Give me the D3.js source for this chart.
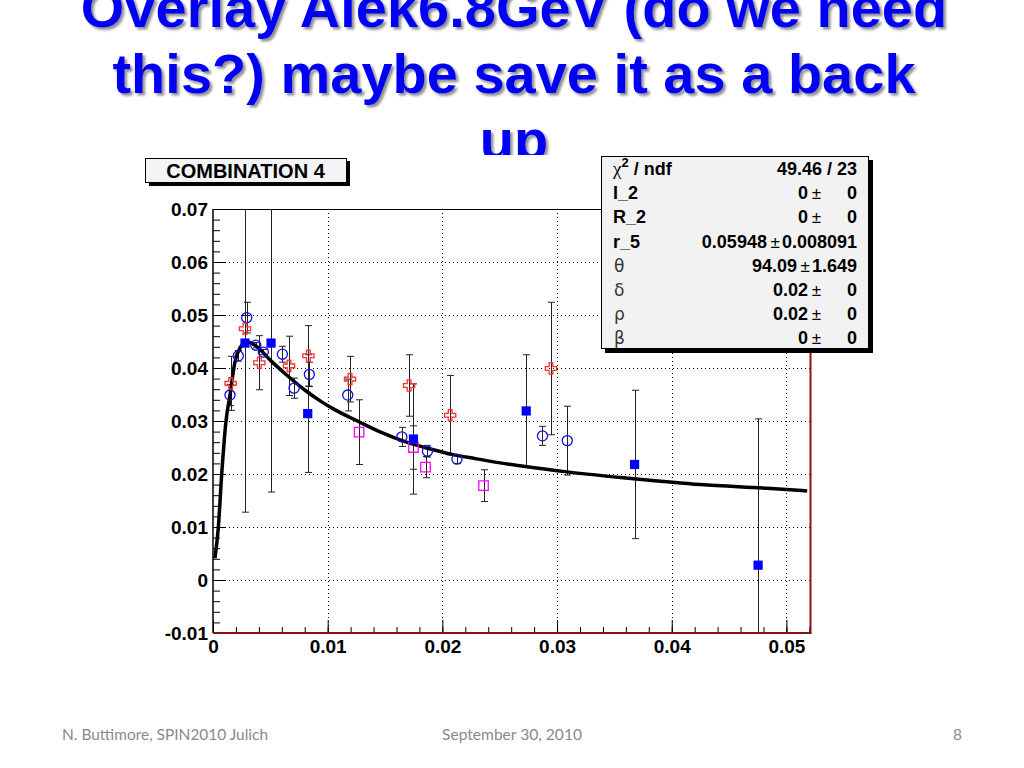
<!DOCTYPE html>
<html><head><meta charset="utf-8">
<script src="https://cdn.jsdelivr.net/npm/d3@7"></script>
<style>html,body{margin:0;padding:0;background:#fff;} svg{display:block}</style>
</head><body>
<svg id="c" width="1024" height="768"></svg>
<script>
// ---------------- data ----------------
const titleLines = ["Overlay Alek6.8GeV (do we need", "this?) maybe save it as a back", "up"];
const chartTitle = "COMBINATION 4";
const footerLeft = "N. Buttimore, SPIN2010 Julich";
const footerCenter = "September 30, 2010";
const footerRight = "8";

const xTicks = [0, 0.01, 0.02, 0.03, 0.04, 0.05];
const xTickLabels = ["0", "0.01", "0.02", "0.03", "0.04", "0.05"];
const yTicks = [-0.01, 0, 0.01, 0.02, 0.03, 0.04, 0.05, 0.06, 0.07];
const yTickLabels = ["-0.01", "0", "0.01", "0.02", "0.03", "0.04", "0.05", "0.06", "0.07"];

// blue filled squares
const sqX   = [0.00279, 0.00506, 0.00826, 0.01748, 0.02731, 0.03676, 0.04753];
const sqY   = [0.0447, 0.0447, 0.0314, 0.0266, 0.0319, 0.0218, 0.0028];
const sqErr = [0.0319, 0.0281, 0.0111, 0.0104, 0.0106, 0.0140, 0.0276];

// blue open circles
const circX   = [0.00148, 0.00221, 0.00294, 0.00373, 0.00439, 0.00605, 0.00707, 0.00840, 0.01175, 0.01647, 0.01870, 0.02127, 0.02873, 0.03089];
const circY   = [0.0349, 0.0423, 0.0495, 0.0443, 0.0430, 0.0426, 0.0362, 0.0388, 0.0349, 0.0270, 0.0243, 0.0228, 0.0272, 0.0263];
const circErr = [0.0020, 0.0010, 0.0029, 0.0005, 0.0005, 0.0015, 0.0019, 0.0023, 0.0030, 0.0018, 0.0011, 0.0008, 0.0018, 0.0065];

// red open crosses
const crossX   = [0.00154, 0.00279, 0.00404, 0.00663, 0.00832, 0.01195, 0.01710, 0.02068, 0.02947];
const crossY   = [0.0371, 0.0474, 0.0410, 0.0404, 0.0423, 0.0379, 0.0367, 0.0311, 0.0399];
const crossErr = [0.0051, 0.0025, 0.0051, 0.0056, 0.0057, 0.0043, 0.0058, 0.0075, 0.0125];

// magenta open squares
const magX   = [0.01274, 0.01748, 0.01853, 0.02359];
const magY   = [0.0279, 0.0250, 0.0213, 0.0178];
const magErr = [0.0061, 0.0041, 0.0020, 0.0030];

// fit curve
const fitX = [0.00017, 0.00046, 0.00076, 0.00113, 0.00148, 0.00192, 0.00236, 0.00273, 0.00305, 0.00366, 0.00512, 0.00657, 0.00803, 0.00934, 0.01065, 0.01268, 0.01472, 0.01675, 0.01879, 0.02083, 0.02286, 0.02504, 0.02723, 0.03086, 0.03668, 0.04250, 0.04832, 0.05181];
const fitY = [0.0041, 0.0098, 0.0200, 0.0299, 0.0349, 0.0412, 0.0438, 0.0447, 0.0449, 0.0443, 0.0412, 0.0384, 0.0358, 0.0338, 0.0321, 0.0299, 0.0278, 0.0261, 0.0248, 0.0237, 0.0229, 0.0221, 0.0214, 0.0204, 0.0191, 0.0180, 0.0173, 0.0168];

// stats box
const statLabels = ["χ", "I_2", "R_2", "r_5", "θ", "δ", "ρ", "β"];
const statValues = ["49.46 / 23", "0", "0", "0.05948", "94.09", "0.02", "0.02", "0"];
const statErrors = [null, "0", "0", "0.008091", "1.649", "0", "0", "0"];

// ---------------- drawing ----------------
const svg = d3.select("#c");
const F = "'Liberation Sans', Arial, Helvetica, sans-serif";

const defs = svg.append("defs");
const flt = defs.append("filter").attr("id", "shadow").attr("x", "-5%").attr("y", "-20%").attr("width", "110%").attr("height", "140%");
flt.append("feDropShadow").attr("dx", 2.5).attr("dy", 2.5).attr("stdDeviation", 0.8)
  .attr("flood-color", "#6a6a6a").attr("flood-opacity", 0.75);

// title with shadow
const titleBase = [27, 93, 159];
titleLines.forEach((t, i) => {
  svg.append("text").attr("x", 514).attr("y", titleBase[i]).attr("text-anchor", "middle")
    .attr("font-family", F).attr("font-weight", "bold").attr("font-size", 56)
    .attr("fill", "#0505f5").attr("filter", "url(#shadow)").text(t);
});

// chart image background
svg.append("rect").attr("x", 138).attr("y", 155).attr("width", 745).attr("height", 530).attr("fill", "#fff");

const X0 = 213, X1 = 810.5, Y0 = 633, Y1 = 209;
const x = d3.scaleLinear().domain([0, 0.0521]).range([X0, X1]);
const y = d3.scaleLinear().domain([-0.01, 0.07]).range([Y0, Y1]);

defs.append("clipPath").attr("id", "pc").append("rect")
  .attr("x", X0).attr("y", Y1).attr("width", X1 - X0).attr("height", Y0 - Y1);

// grid
const grid = svg.append("g").attr("stroke", "#000").attr("stroke-width", 1).attr("stroke-dasharray", "1,3");
xTicks.filter(v => v > 0).forEach(v => {
  grid.append("line").attr("x1", Math.round(x(v)) + 0.5).attr("x2", Math.round(x(v)) + 0.5).attr("y1", Y1).attr("y2", Y0);
});
yTicks.filter(v => v > -0.01 && v < 0.07).forEach(v => {
  grid.append("line").attr("y1", Math.round(y(v)) + 0.5).attr("y2", Math.round(y(v)) + 0.5).attr("x1", X0).attr("x2", X1);
});

// axes
const minorX = d3.range(0, 0.0521, 0.002);
const minorY = d3.range(-0.01, 0.0701, 0.002);

const xAxisG = svg.append("g").attr("transform", `translate(0,${Y0})`);
xAxisG.call(d3.axisBottom(x).tickValues(minorX).tickSize(-6).tickFormat(""));
const xMaj = svg.append("g").attr("transform", `translate(0,${Y0})`)
  .call(d3.axisBottom(x).tickValues(xTicks).tickSize(-13).tickPadding(7).tickFormat((d, i) => xTickLabels[i]));

const yAxisG = svg.append("g").attr("transform", `translate(${X0},0)`);
yAxisG.call(d3.axisLeft(y).tickValues(minorY).tickSize(-7).tickFormat(""));
const yMaj = svg.append("g").attr("transform", `translate(${X0},0)`)
  .call(d3.axisLeft(y).tickValues(yTicks).tickSize(-13).tickPadding(5).tickFormat((d, i) => yTickLabels[i]));

[xAxisG, xMaj, yAxisG, yMaj].forEach(g => {
  g.select(".domain").remove();
  g.selectAll("line").attr("stroke", "#000").attr("stroke-width", 1);
  g.selectAll("text").attr("font-family", F).attr("font-weight", "bold").attr("font-size", 19).attr("fill", "#000");
});

// frame
svg.append("line").attr("x1", X0).attr("x2", X1).attr("y1", Y1 + 0.5).attr("y2", Y1 + 0.5).attr("stroke", "#000").attr("stroke-width", 1);
svg.append("line").attr("x1", X0).attr("x2", X0).attr("y1", Y1).attr("y2", Y0).attr("stroke", "#000").attr("stroke-width", 1.5);
svg.append("line").attr("x1", X0).attr("x2", X1 + 1).attr("y1", Y0).attr("y2", Y0).attr("stroke", "#8b1010").attr("stroke-width", 2);
svg.append("line").attr("x1", X1).attr("x2", X1).attr("y1", Y1).attr("y2", Y0).attr("stroke", "#8b1010").attr("stroke-width", 2);

// data layer
const plot = svg.append("g").attr("clip-path", "url(#pc)");

function errorBars(xs, ys, es) {
  const g = plot.append("g").attr("stroke", "#222").attr("stroke-width", 1).attr("fill", "none");
  xs.forEach((xv, i) => {
    const px = Math.round(x(xv)) + 0.5, top = y(ys[i] + es[i]), bot = y(ys[i] - es[i]);
    g.append("line").attr("x1", px).attr("x2", px).attr("y1", top).attr("y2", bot);
    g.append("line").attr("x1", px - 3.5).attr("x2", px + 3.5).attr("y1", top).attr("y2", top);
    g.append("line").attr("x1", px - 3.5).attr("x2", px + 3.5).attr("y1", bot).attr("y2", bot);
  });
}
errorBars(sqX, sqY, sqErr);
errorBars(circX, circY, circErr);
errorBars(crossX, crossY, crossErr);
errorBars(magX, magY, magErr);

// fit curve
plot.append("path")
  .datum(fitX.map((v, i) => [v, fitY[i]]))
  .attr("d", d3.line().x(d => x(d[0])).y(d => y(d[1])).curve(d3.curveMonotoneX))
  .attr("fill", "none").attr("stroke", "#000").attr("stroke-width", 3.5).attr("stroke-linejoin", "round");

function markers(xs, ys, type, size, fill, stroke, sw) {
  const sym = d3.symbol().type(type).size(size);
  plot.append("g").selectAll("path").data(xs).join("path")
    .attr("d", sym)
    .attr("transform", (d, i) => `translate(${x(d)},${y(ys[i])})`)
    .attr("fill", fill).attr("stroke", stroke).attr("stroke-width", sw);
}
markers(circX, circY, d3.symbolCircle, 80, "none", "#1010e0", 1.3);
markers(crossX, crossY, d3.symbolCross, 70, "none", "#ff3030", 1.3);
markers(magX, magY, d3.symbolSquare, 90, "none", "#ff00ff", 1.3);
markers(sqX, sqY, d3.symbolSquare, 85, "#0000ff", "none", 0);

// chart title box
svg.append("rect").attr("x", 149).attr("y", 161).attr("width", 201).attr("height", 25).attr("fill", "#000");
svg.append("rect").attr("x", 145.5).attr("y", 158.5).attr("width", 201).attr("height", 24)
  .attr("fill", "#f4f4f4").attr("stroke", "#000").attr("stroke-width", 1);
svg.append("text").attr("x", 245.5).attr("y", 178).attr("text-anchor", "middle")
  .attr("font-family", F).attr("font-weight", "bold").attr("font-size", 20).text(chartTitle);

// stats box
svg.append("rect").attr("x", 605).attr("y", 160).attr("width", 268).attr("height", 193).attr("fill", "#000");
svg.append("rect").attr("x", 601.5).attr("y", 156.5).attr("width", 267).attr("height", 192)
  .attr("fill", "#f2f2f2").attr("stroke", "#000").attr("stroke-width", 1);

const rowY = d3.range(statLabels.length).map(i => 175 + i * 24.2);
const sb = svg.append("g").attr("font-family", F).attr("font-size", 18);
const greek = new Set(["θ", "δ", "ρ", "β"]);
statLabels.forEach((lab, i) => {
  if (i === 0) {
    const t = sb.append("text").attr("x", 613).attr("y", rowY[i]).attr("font-weight", "bold");
    t.append("tspan").attr("font-family", "'Liberation Serif', serif").attr("font-weight", "normal").attr("font-size", 19).text("χ");
    t.append("tspan").attr("dy", -8).attr("font-size", 13).text("2");
    t.append("tspan").attr("dy", 8).text(" / ndf");
  } else if (greek.has(lab)) {
    sb.append("text").attr("x", 614).attr("y", rowY[i]).attr("font-family", "'DejaVu Sans', sans-serif")
      .attr("font-size", 17).attr("fill", "#333").text(lab);
  } else {
    sb.append("text").attr("x", 613).attr("y", rowY[i]).attr("font-weight", "bold").text(lab);
  }
  const R = 857;
  if (statErrors[i] === null) {
    sb.append("text").attr("x", R).attr("y", rowY[i]).attr("text-anchor", "end").attr("font-weight", "bold").text(statValues[i]);
  } else {
    const e = sb.append("text").attr("x", R).attr("y", rowY[i]).attr("text-anchor", "end").attr("font-weight", "bold").text(statErrors[i]);
    const ew = Math.max(e.node().getComputedTextLength(), 34);
    const pmRight = R - ew - 2;
    sb.append("text").attr("x", pmRight).attr("y", rowY[i]).attr("text-anchor", "end").attr("font-size", 17).text("±");
    sb.append("text").attr("x", pmRight - 13).attr("y", rowY[i]).attr("text-anchor", "end").attr("font-weight", "bold").text(statValues[i]);
  }
});

// footer
const ff = "Lato, 'Open Sans', sans-serif";
svg.append("text").attr("x", 62).attr("y", 740).attr("font-family", ff).attr("font-size", 15.5).attr("fill", "#8a8a8a")
  .attr("textLength", 206).attr("lengthAdjust", "spacingAndGlyphs").text(footerLeft);
svg.append("text").attr("x", 442).attr("y", 740).attr("font-family", ff).attr("font-size", 15.5).attr("fill", "#8a8a8a")
  .attr("textLength", 140).attr("lengthAdjust", "spacingAndGlyphs").text(footerCenter);
svg.append("text").attr("x", 962).attr("y", 740).attr("text-anchor", "end").attr("font-family", ff).attr("font-size", 15.5).attr("fill", "#8a8a8a").text(footerRight);
</script>
</body></html>
